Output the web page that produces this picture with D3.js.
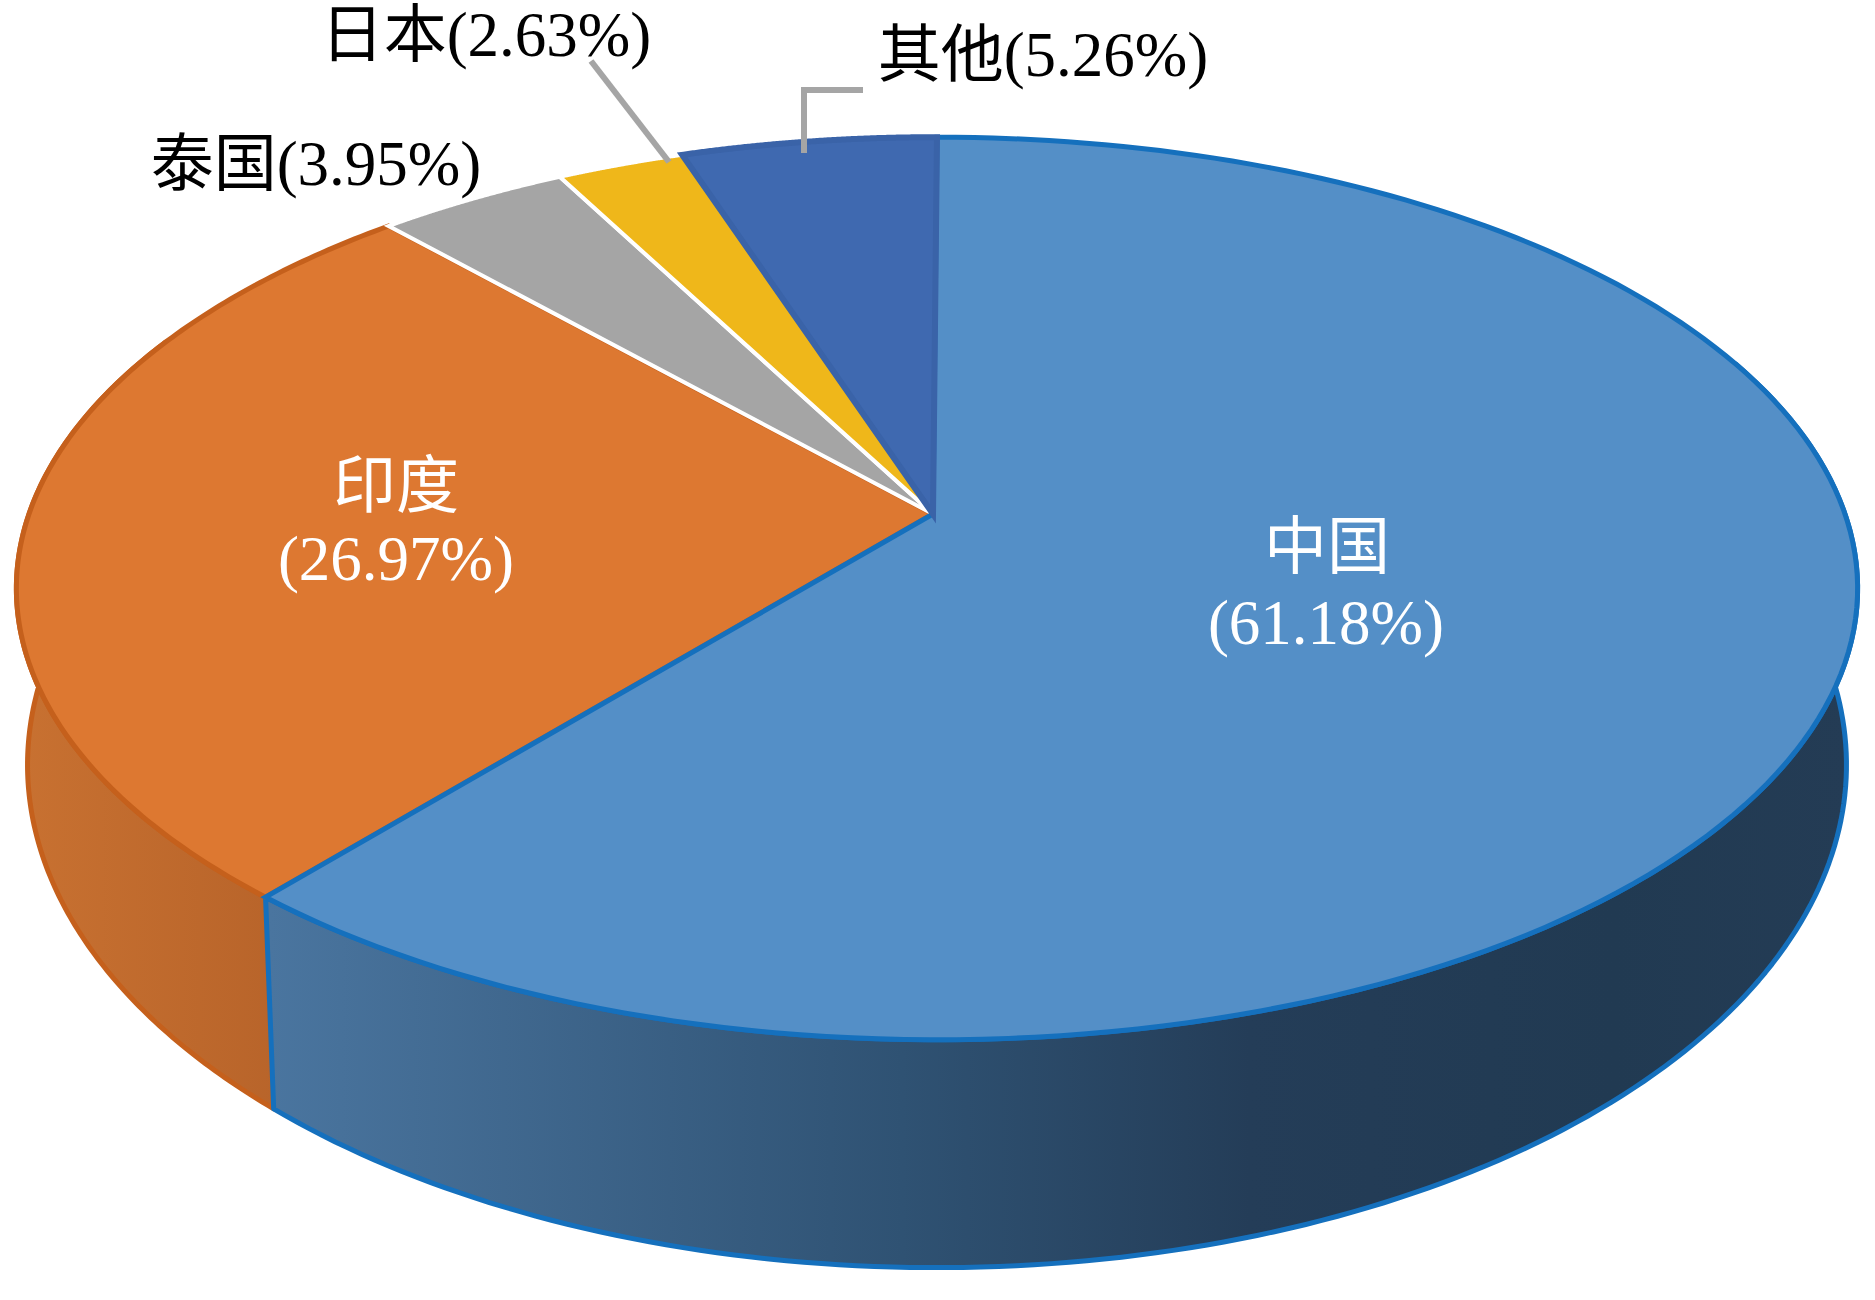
<!DOCTYPE html>
<html><head><meta charset="utf-8">
<script src="https://cdnjs.cloudflare.com/ajax/libs/d3/7.8.5/d3.min.js"></script>
<style>html,body{margin:0;background:#fff}svg{display:block}
text{font-family:"Liberation Serif","Noto Sans CJK SC",serif;font-size:63px}</style></head>
<body><svg id="c" width="1875" height="1300"></svg>
<script>
const categories = ["中国","印度","泰国","日本","其他"];
const shares = [61.18,26.97,3.95,2.63,5.26];
const topColors = ["#548fc7","#dd7831","#a5a5a5","#efb71a","#3f69b0"];
const strokeColors = ["#1570bd","#c5601c","#ffffff","#ffffff","#3a63a8"];
const sideStops = [[0,"#4a759f"],[0.4,"#2f5273"],[0.62,"#243d58"],[0.85,"#213a52"],[1,"#243c55"]];
const orangeStops = [[0,"#c87131"],[1,"#b8642a"]];

const svg = d3.select("#c"), defs = svg.append("defs");
const arcs = d3.pie().value(d=>d).sort(null)(shares);

const k = 0.165;
const apex = [933,514];
const topRing = {cx:937, cy:514, sx:908, sy:439};
const lowRing = {cx:937, cy:682, sx:897, sy:489};
function project(ring,a){
  const X=Math.sin(a), Y=-Math.cos(a), w=1-k*Y;
  return [ring.cx+ring.sx*X/w, ring.cy+ring.sy*Y/w];
}
const line = d3.line();
const span = (a0,a1,n=160)=>d3.range(n+1).map(i=>a0+(a1-a0)*i/n);

function grad(id,stops,x1,x2){
  const g=defs.append("linearGradient").attr("id",id).attr("gradientUnits","userSpaceOnUse")
    .attr("x1",x1).attr("x2",x2).attr("y1",0).attr("y2",0);
  stops.forEach(s=>g.append("stop").attr("offset",s[0]).attr("stop-color",s[1]));
}
grad("sideBlue",sideStops,270,1850);
grad("sideOrange",orangeStops,20,280);

function side(a0,a1,fill,stroke){
  const t=span(a0,a1).map(a=>project(topRing,a));
  const b=span(a0,a1).map(a=>project(lowRing,a)).reverse();
  svg.append("path").attr("d",line(t.concat(b))+"Z").attr("fill",fill)
    .attr("stroke",stroke).attr("stroke-width",5).attr("stroke-linejoin","round");
}
side(arcs[1].startAngle, arcs[1].startAngle+1.3, "url(#sideOrange)", strokeColors[1]);
side(1.2, arcs[0].endAngle, "url(#sideBlue)", strokeColors[0]);

function face(i){
  const d=arcs[i];
  const pts=[apex].concat(span(d.startAngle,d.endAngle).map(a=>project(topRing,a)));
  svg.append("path").attr("d",line(pts)+"Z").attr("fill",topColors[i])
    .attr("stroke",strokeColors[i]).attr("stroke-width",i===4?6:(i===0||i===1?5:4)).attr("stroke-linejoin","miter");
}
[1,2,3,0,4].forEach(face);

const leaders=[[[591,61],[669,162]],[[863,90],[804,90],[804,153]]];
svg.selectAll("path.lead").data(leaders).join("path").attr("class","lead")
  .attr("d",line).attr("fill","none").attr("stroke","#a5a5a5").attr("stroke-width",6);

const pct=i=>`(${shares[i].toFixed(2)}%)`;
const labels=[
 {t:categories[0],x:1327,y:568,c:"#fff"},{t:pct(0),x:1326,y:644,c:"#fff"},
 {t:categories[1],x:396,y:507,c:"#fff"},{t:pct(1),x:396,y:580,c:"#fff"},
 {t:categories[2]+pct(2),x:316,y:185,c:"#000"},
 {t:categories[3]+pct(3),x:486,y:56,c:"#000"},
 {t:categories[4]+pct(4),x:1043,y:76,c:"#000"}];
svg.selectAll("text").data(labels).join("text").attr("x",d=>d.x).attr("y",d=>d.y)
  .attr("text-anchor","middle").attr("fill",d=>d.c).text(d=>d.t);
</script></body></html>
